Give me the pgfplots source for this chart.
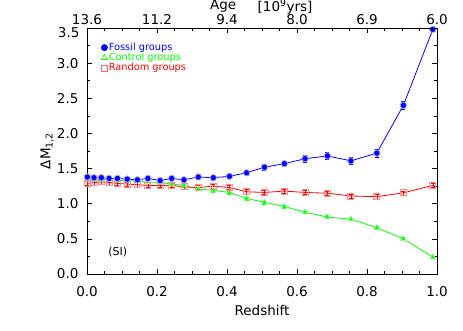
\documentclass[border=0pt]{standalone}
\usepackage{fontspec}
\setmainfont{DejaVu Sans}
\usepackage{pgfplots}
\pgfplotsset{compat=1.18}

\pgfplotstableread{
z      fos   efos  con   econ  ran   eran
0.001  1.38  0.03  1.34  0.02  1.29  0.03
0.020  1.37  0.03  1.34  0.02  1.30  0.03
0.041  1.37  0.03  1.34  0.02  1.31  0.03
0.063  1.36  0.03  1.34  0.02  1.30  0.03
0.087  1.36  0.03  1.33  0.02  1.29  0.03
0.115  1.35  0.03  1.33  0.02  1.28  0.03
0.144  1.34  0.03  1.32  0.02  1.27  0.03
0.174  1.36  0.03  1.31  0.02  1.26  0.03
0.209  1.33  0.03  1.30  0.02  1.26  0.03
0.242  1.36  0.03  1.28  0.02  1.26  0.03
0.277  1.34  0.03  1.26  0.02  1.24  0.03
0.318  1.38  0.03  1.21  0.02  1.23  0.03
0.361  1.37  0.03  1.19  0.02  1.25  0.03
0.407  1.39  0.03  1.16  0.02  1.23  0.03
0.456  1.44  0.04  1.075 0.02  1.17  0.03
0.507  1.52  0.04  1.02  0.02  1.16  0.03
0.564  1.57  0.04  0.96  0.02  1.18  0.03
0.623  1.64  0.05  0.88  0.02  1.16  0.03
0.687  1.68  0.05  0.81  0.02  1.15  0.03
0.754  1.61  0.05  0.78  0.02  1.11  0.03
0.828  1.72  0.06  0.66  0.02  1.10  0.03
0.904  2.40  0.06  0.50  0.02  1.155 0.03
0.988  3.48  0.03  0.24  0.02  1.26  0.03
}\groups

\begin{document}
\begin{tikzpicture}
\useasboundingbox (-87pt,-57pt) rectangle (376pt,274pt);
\begin{axis}[
  at={(0,0)}, anchor=south west,
  scale only axis, width=350pt, height=246pt,
  clip=false,
  xmin=0, xmax=1, ymin=0, ymax=3.5,
  xtick={0,0.2,0.4,0.6,0.8,1.0},
  ytick={0,0.5,1,1.5,2,2.5,3,3.5},
  yticklabels={0.0,0.5,1.0,1.5,2.0,2.5,3.0,},
  minor x tick num=3, minor y tick num=1,
  xtick pos=bottom, ytick pos=both, yticklabel pos=left,
  tick align=inside,
  major tick length=5pt, minor tick length=3pt,
  axis line style={line width=0.9pt},
  every tick/.style={black, line width=0.7pt},
  /pgf/number format/assume math mode=true,
  /pgf/number format/.cd, fixed, fixed zerofill, precision=1,
  /pgfplots/.cd,
  tick label style={font=\fontsize{13.5}{15}\selectfont},
  xticklabel style={yshift=-8.5pt},
  yticklabel style={xshift=-5pt},
  xlabel={Redshift},
  xlabel style={font=\fontsize{13.5}{15}\selectfont, at={(axis description cs:0.5,-0.15)}, anchor=center},
  ylabel={ΔM\textsubscript{1,2}},
  ylabel style={font=\fontsize{13.5}{15}\selectfont, at={(axis description cs:-0.114,0.5)}, anchor=center},
  legend style={at={(axis description cs:0.04,0.944)}, anchor=north west,
    draw=none, fill=none, font=\fontsize{9.8}{11}\selectfont,
    row sep=-1.2pt, inner sep=0pt, nodes={inner sep=1.2pt}},
  legend cell align=left,
  legend image code/.code={\draw[#1] plot[only marks] coordinates {(3pt,0pt)};},
]
  \addlegendimage{blue, mark=*, mark size=3.2pt}
  \addlegendentry{\textcolor{blue}{Fossil groups}}
  \addlegendimage{green, mark=triangle, mark size=3.5pt, line width=0.6pt}
  \addlegendentry{\textcolor{green}{Control groups}}
  \addlegendimage{red!60, mark=square, mark size=3pt, line width=0.6pt}
  \addlegendentry{\textcolor{red}{Random groups}}

  \addplot[green, line width=0.8pt, mark=triangle*, mark size=3.2pt,
    mark options={fill=green, draw=green!45, line width=0.6pt},
    error bars/.cd, y dir=both, y explicit,
    error bar style={green, line width=0.6pt}, error mark options={rotate=90, mark size=2pt}]
    table[x=z, y=con, y error=econ] {\groups};
  \addplot[red, line width=0.8pt, mark=square, mark size=3pt,
    mark options={draw=red!45, line width=0.9pt},
    error bars/.cd, y dir=both, y explicit,
    error bar style={red, line width=0.6pt}, error mark options={rotate=90, mark size=2pt}]
    table[x=z, y=ran, y error=eran] {\groups};
  \addplot[blue, line width=0.8pt, mark=*, mark size=3.2pt,
    mark options={fill=blue, draw=blue!35, line width=0.8pt},
    error bars/.cd, y dir=both, y explicit,
    error bar style={blue, line width=0.6pt}, error mark options={rotate=90, mark size=2pt}]
    table[x=z, y=fos, y error=efos] {\groups};

  % top y label sits a little lower, as IDL puts it
  \node[font=\fontsize{13.5}{15}\selectfont, anchor=east] at ([xshift=-4pt, yshift=-5pt]axis description cs:0,1) {3.5};
  \node[font=\fontsize{11}{13}\selectfont] at (axis cs:0.088,0.31) {(SI)};
  \node[font=\fontsize{13.5}{15}\selectfont] at (axis description cs:0.389,1.089) {Age};
  \node[font=\fontsize{13.5}{15}\selectfont] at (axis description cs:0.566,1.085) {[10\textsuperscript{9}yrs]};
\end{axis}
\begin{axis}[
  at={(0,0)}, anchor=south west,
  scale only axis, width=350pt, height=246pt,
  xmin=0, xmax=1, ymin=0, ymax=1,
  axis x line*=top, axis y line=none,
  xtick={0,0.2,0.4,0.6,0.8,1.0},
  xticklabels={13.6,11.2,9.4,8.0,6.9,6.0},
  minor x tick num=3,
  tick align=inside,
  major tick length=5pt, minor tick length=3pt,
  axis line style={line width=0.9pt},
  every tick/.style={black, line width=0.7pt},
  tick label style={font=\fontsize{13.5}{15}\selectfont},
]
  \addplot[draw=none, forget plot] coordinates {(0,0)};
\end{axis}
\end{tikzpicture}
\end{document}
